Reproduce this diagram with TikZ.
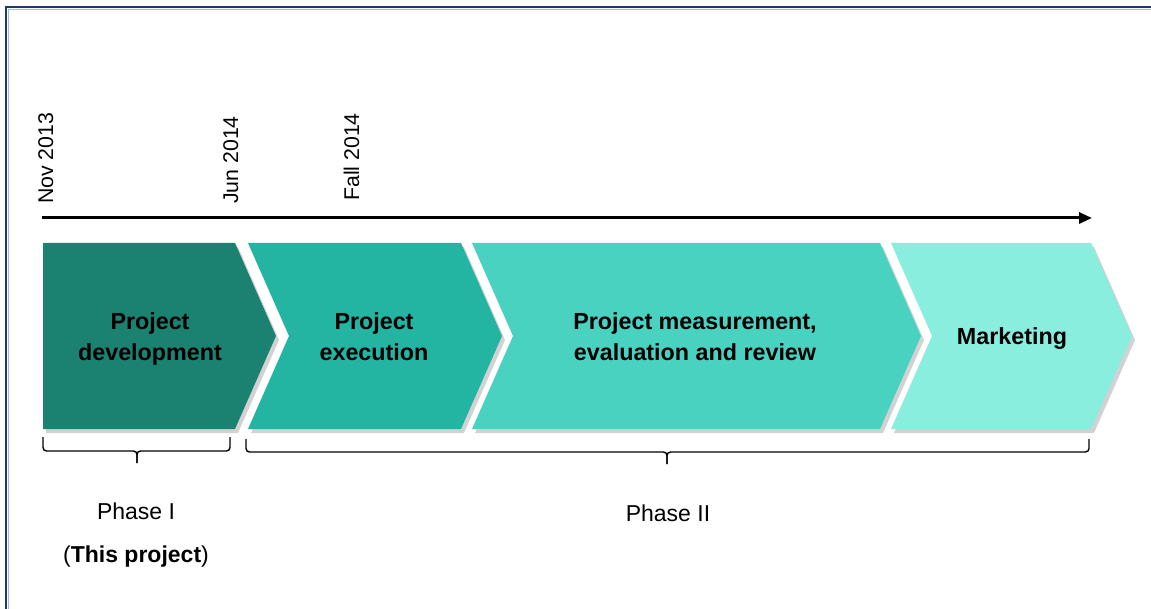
\documentclass[tikz,border=0pt]{standalone}
\usepackage{fontspec}
\setmainfont{Liberation Sans}
\usetikzlibrary{arrows.meta}

\definecolor{chA}{HTML}{1B8272}
\definecolor{chB}{HTML}{23B4A2}
\definecolor{chC}{HTML}{4AD2C0}
\definecolor{chD}{HTML}{8AEEDE}
\definecolor{shadowgray}{HTML}{D2D2D2}
\definecolor{framenavy}{HTML}{1F3A70}
\definecolor{framelight}{HTML}{A9BCDD}

% chevron outline: left x, top-right x, depth of the left notch
\newcommand\chevshape[3]{(#1,243) -- (#2,243) -- (#2+41,336) -- (#2,429) -- (#1,429) -- (#1+#3,336) -- cycle}

\tikzset{
  chevtext/.style={align=center, inner sep=0pt, text=black,
    font=\fontsize{23.3}{31}\selectfont\bfseries},
  datelab/.style={rotate=90, anchor=base west, inner sep=0pt,
    font=\fontsize{21.3}{25}\selectfont},
  phaselab/.style={inner sep=0pt, font=\fontsize{23}{27}\selectfont},
  bracepath/.style={line width=1.4pt, rounded corners=3.5pt},
}

\begin{document}
\begin{tikzpicture}[x=1pt, y=-1pt]
\useasboundingbox (0,0) rectangle (1151,609);
\fill[white] (0,0) rectangle (1151,609);

% frame (top and left edges)
\draw[framelight, line width=1.2pt] (8.2,609) -- (8.2,9.2) -- (1151,9.2);
\draw[framenavy, line width=1.8pt] (6,609) -- (6,7.4) -- (1151,7.4);

% time line
\coordinate (tstart) at (42,218);
\coordinate (tend) at (1092,218);
\draw[line width=3pt, -{Triangle[length=13pt, width=11pt]}] (tstart) -- (tend);

\node[datelab] (nov) at (53,204) {Nov 2013};
\node[datelab] (jun) at (238,204) {Jun 2014};
\node[datelab] (fall) at (359,201) {Fall 2014};

% process chevrons with their shadows
\foreach \a/\b/\n in {43/235/0, 248/461/41, 472/880/41, 891/1091/41}
  \fill[shadowgray, shift={(3,4)}] \chevshape{\a}{\b}{\n};
\foreach \a/\b/\n/\c in {43/235/0/chA, 248/461/41/chB, 472/880/41/chC, 891/1091/41/chD}
  \fill[\c] \chevshape{\a}{\b}{\n};

\node[chevtext] (s1) at (150,339) {Project\\development};
\node[chevtext] (s2) at (374,337) {Project\\execution};
\node[chevtext] (s3) at (695,337) {Project measurement,\\evaluation and review};
\node[chevtext] (s4) at (1012,339) {Marketing};

% phase braces
\coordinate (b1l) at (43,437);
\coordinate (b1r) at (230,437);
\coordinate (b1m) at (137,451);
\coordinate (b1t) at (137,463);
\draw[bracepath] (b1l) |- (b1m) -- (b1t);
\draw[bracepath] (b1r) |- (b1m) -- (b1t);

\coordinate (b2l) at (246,439);
\coordinate (b2r) at (1089,439);
\coordinate (b2m) at (667,452);
\coordinate (b2t) at (667,464);
\draw[bracepath] (b2l) |- (b2m) -- (b2t);
\draw[bracepath] (b2r) |- (b2m) -- (b2t);

\node[phaselab] (ph1) at (136,511) {Phase I};
\node[phaselab] (ph1b) at (136,557) {(\textbf{This project})};
\node[phaselab] (ph2) at (668,513) {Phase II};
\end{tikzpicture}
\end{document}
